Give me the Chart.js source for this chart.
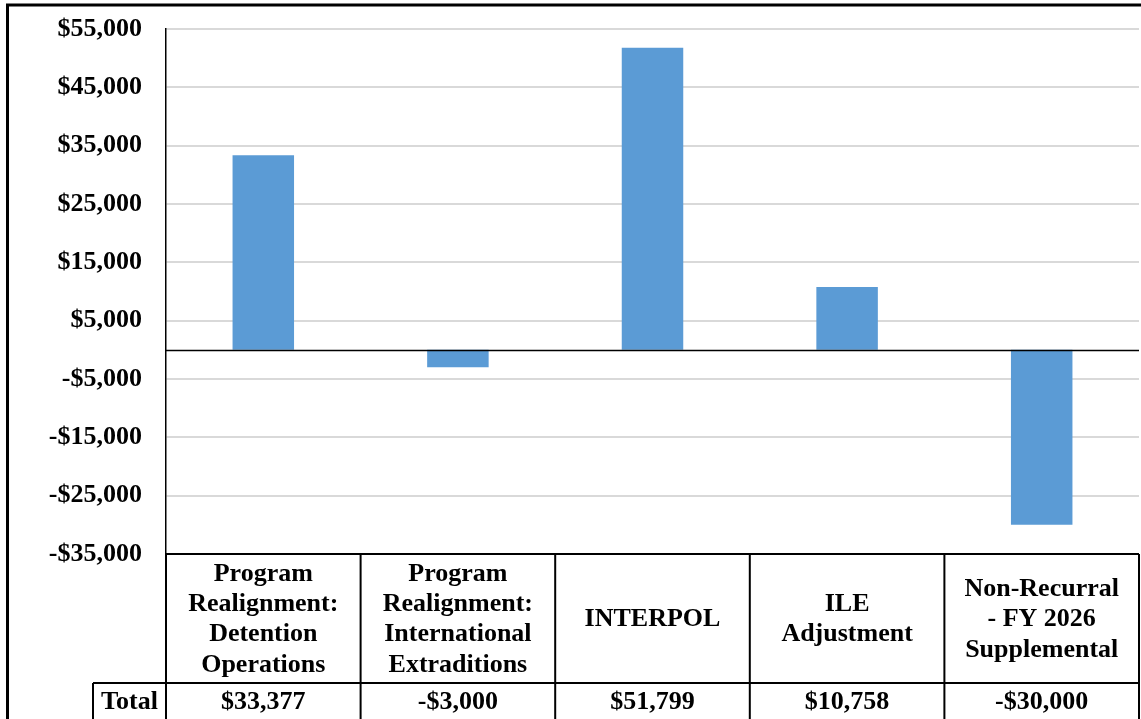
<!DOCTYPE html>
<html>
<head>
<meta charset="utf-8">
<script src="https://cdn.jsdelivr.net/npm/chart.js@4/dist/chart.umd.min.js"></script>
<style>
  html, body { margin: 0; padding: 0; background: #ffffff; }
  #wrap { width: 1141px; height: 719px; position: relative; }
</style>
</head>
<body>
<div id="wrap"><canvas id="c" width="1141" height="719"></canvas></div>
<script>
// Budget changes by program item
const categories = [
  ["Program", "Realignment:", "Detention", "Operations"],
  ["Program", "Realignment:", "International", "Extraditions"],
  ["INTERPOL"],
  ["ILE", "Adjustment"],
  ["Non-Recurral", "- FY 2026", "Supplemental"]
];
const values = [33377, -3000, 51799, 10758, -30000];
const rowHeader = "Total";
const yMin = -35000;
const yMax = 55000;
const yStep = 10000;

const FONT = "bold 26px 'Liberation Serif', 'Times New Roman', serif";

function money(v) {
  const s = "$" + Math.abs(v).toLocaleString("en-US");
  return v < 0 ? "-" + s : s;
}

// Category axis line at zero, the data table under the plot and the frame
const tablePlugin = {
  id: "dataTable",
  afterDraw(chart) {
    const ctx = chart.ctx;
    const x = chart.scales.x;
    const y = chart.scales.y;
    const area = chart.chartArea;
    const n = categories.length;
    const step = (area.right - area.left) / n;
    const top = area.bottom;
    const rowY = 683;
    const bottom = 730;

    ctx.save();
    // zero line
    const y0 = Math.round(y.getPixelForValue(0)) + 0.5;
    ctx.strokeStyle = "#000";
    ctx.lineWidth = 1.5;
    ctx.beginPath();
    ctx.moveTo(area.left, y0);
    ctx.lineTo(area.right, y0);
    ctx.stroke();

    // table grid
    ctx.lineWidth = 2;
    ctx.beginPath();
    ctx.moveTo(area.left, top);
    ctx.lineTo(area.right, top);
    ctx.moveTo(93, rowY);
    ctx.lineTo(area.right, rowY);
    for (let i = 0; i <= n; i++) {
      const bx = area.left + i * step;
      ctx.moveTo(bx, top);
      ctx.lineTo(bx, bottom);
    }
    ctx.moveTo(93, rowY);
    ctx.lineTo(93, bottom);
    ctx.stroke();

    // table text
    ctx.fillStyle = "#000";
    ctx.font = FONT;
    ctx.textAlign = "center";
    ctx.textBaseline = "middle";
    const lh = 30.4;
    const midY = (top + rowY) / 2 + 1;
    categories.forEach((lines, i) => {
      const cx = x.getPixelForValue(i);
      const y1 = midY - (lines.length - 1) * lh / 2;
      lines.forEach((t, j) => ctx.fillText(t, cx, y1 + j * lh));
      ctx.fillText(money(values[i]), cx, 702);
    });
    ctx.fillText(rowHeader, 129.5, 702);

    // outer frame
    ctx.lineWidth = 3;
    ctx.beginPath();
    ctx.moveTo(7.5, 730);
    ctx.lineTo(7.5, 5);
    ctx.lineTo(1145, 5);
    ctx.stroke();
    ctx.restore();
  }
};

new Chart(document.getElementById("c"), {
  type: "bar",
  data: {
    labels: categories.map(c => c.join(" ")),
    datasets: [{
      data: values,
      backgroundColor: "#5B9BD5",
      borderWidth: 0,
      barPercentage: 0.316,
      categoryPercentage: 1.0
    }]
  },
  options: {
    responsive: false,
    animation: false,
    devicePixelRatio: 1,
    layout: { padding: { top: 29, bottom: 165, left: 0, right: 2 } },
    plugins: { legend: { display: false }, tooltip: { enabled: false } },
    scales: {
      x: {
        display: false
      },
      y: {
        min: yMin,
        max: yMax,
        ticks: {
          stepSize: yStep,
          color: "#000",
          padding: 24,
          font: { family: "'Liberation Serif', 'Times New Roman', serif", size: 26, weight: "bold" },
          callback: v => money(v)
        },
        grid: { color: "#D9D9D9", lineWidth: 2, drawTicks: false },
        border: { display: true, color: "#000", width: 1.5 },
        afterFit(scale) {
          scale.width = 166;
          scale.paddingTop = 0;
          scale.paddingBottom = 0;
        }
      }
    }
  },
  plugins: [tablePlugin]
});
</script>
</body>
</html>
